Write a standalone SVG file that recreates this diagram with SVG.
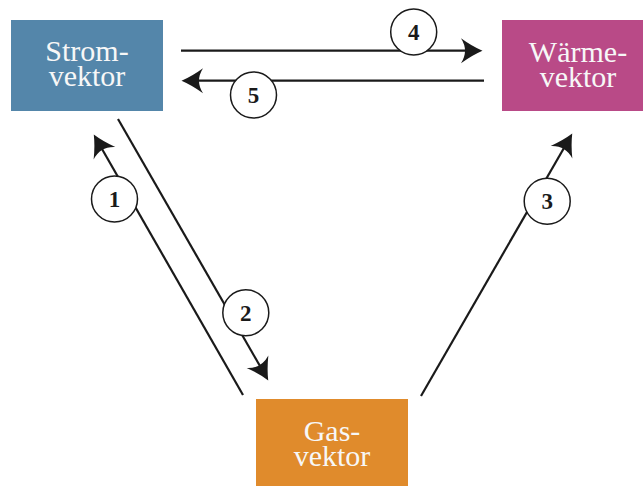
<svg xmlns="http://www.w3.org/2000/svg" width="643" height="486" viewBox="0 0 643 486">
  <style>
    .box-text { font-family: "Liberation Serif", "Times New Roman", serif; font-size: 30px; fill: #f7f7f7; text-anchor: middle; }
    .conn { fill: none; stroke: #1a1a1a; stroke-width: 2.2; marker-end: url(#head); }
    .lbl circle { fill: #ffffff; stroke: #1a1a1a; stroke-width: 1.5; }
    .lbl text { font-family: "Liberation Serif", "Times New Roman", serif; font-size: 23px; font-weight: bold; fill: #1a1a1a; text-anchor: middle; }
  </style>
  <defs>
    <marker id="head" markerUnits="userSpaceOnUse" viewBox="-12 -13 24 26" markerWidth="24" markerHeight="26" refX="0" refY="0" orient="auto">
      <path d="M10.5,0 Q0,-4.5 -11,-12.5 Q-3,0 -11,12.5 Q0,4.5 10.5,0 Z" fill="#1a1a1a"/>
    </marker>
  </defs>

  <!-- vector nodes -->
  <g id="strom">
    <rect x="11" y="20" width="152" height="91" fill="#5486aa"/>
    <text class="box-text" x="87" y="61">Strom-</text>
    <text class="box-text" x="87" y="86">vektor</text>
  </g>
  <g id="waerme">
    <rect x="502" y="20" width="152" height="91" fill="#b94a87"/>
    <text class="box-text" x="578" y="62">Wärme-</text>
    <text class="box-text" x="578" y="87">vektor</text>
  </g>
  <g id="gas">
    <rect x="256" y="399" width="152" height="91" fill="#e08b2c"/>
    <text class="box-text" x="332" y="441">Gas-</text>
    <text class="box-text" x="332" y="466">vektor</text>
  </g>

  <!-- energy flows between the vectors -->
  <g id="connectors">
    <path class="conn" d="M243,395 L99,143.7"/>
    <path class="conn" d="M118,119 L263,371.3"/>
    <path class="conn" d="M421,396 L567,142.7"/>
    <path class="conn" d="M181,50.7 L472,50.7"/>
    <path class="conn" d="M484,80.7 L192,80.7"/>
  </g>

  <!-- numbered flow labels -->
  <g id="labels" class="lbl">
    <g id="label-1"><circle cx="114.5" cy="199" r="23"/><text x="114.5" y="207">1</text></g>
    <g id="label-2"><circle cx="245.8" cy="312.8" r="23"/><text x="245.8" y="320.8">2</text></g>
    <g id="label-3"><circle cx="547.2" cy="201.2" r="23"/><text x="547.2" y="209.2">3</text></g>
    <g id="label-4"><circle cx="413.7" cy="32" r="23"/><text x="413.7" y="40">4</text></g>
    <g id="label-5"><circle cx="253.5" cy="95" r="23"/><text x="253.5" y="103">5</text></g>
  </g>
</svg>
